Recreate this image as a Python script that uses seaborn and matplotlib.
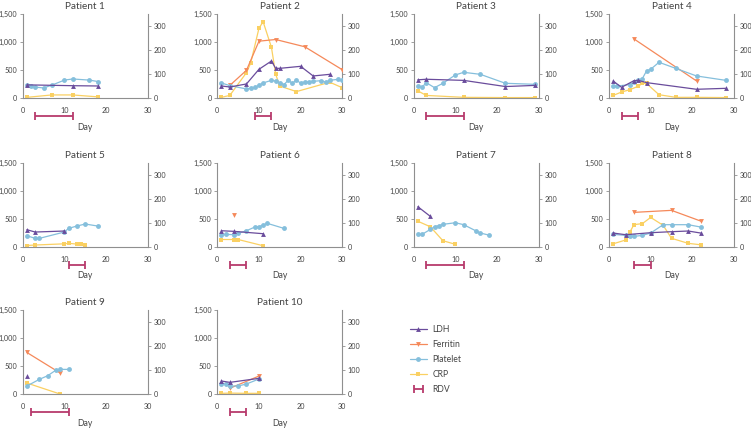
import numpy as np
import pandas as pd
import matplotlib
matplotlib.use("Agg")
import matplotlib.pyplot as plt
from matplotlib.lines import Line2D
from matplotlib.ticker import StrMethodFormatter
import seaborn as sns

# ---- data ----
patients = [1, 2, 3, 4, 5, 6, 7, 8, 9, 10]

# LDH (left axis)
ldh_day = {1: [1, 12, 18], 2: [1, 3, 7, 10, 13, 14, 15, 20, 23, 27], 3: [1, 3, 12, 22, 29],
           4: [1, 3, 6, 7, 9, 21, 28], 5: [1, 3, 10], 6: [1, 4, 11], 7: [1, 4],
           8: [1, 4, 10, 15, 19, 22], 9: [1], 10: [1, 3, 10]}
ldh_val = {1: [240, 225, 220], 2: [220, 202, 256, 518, 666, 535, 535, 571, 399, 428],
           3: [330, 340, 320, 210, 230], 4: [309, 196, 315, 321, 280, 161, 178],
           5: [303, 262, 280], 6: [285, 274, 232], 7: [714, 541],
           8: [244, 214, 250, 268, 280, 244], 9: [326], 10: [237, 213, 285]}

# Ferritin (left axis)
fer_day = {2: [3, 7, 10, 14, 21, 30], 4: [6, 21], 6: [4], 8: [6, 15, 22], 9: [1, 9], 10: [3, 10]}
fer_val = {2: [230, 500, 1020, 1050, 920, 510], 4: [1060, 310], 6: [565],
           8: [613, 649, 458], 9: [747, 380], 10: [107, 326]}

# Platelet (left axis)
plt_day = {1: [1, 2, 3, 5, 7, 10, 12, 16, 18],
           2: [1, 3, 7, 8, 9, 10, 11, 13, 14, 15, 16, 17, 18, 19, 20, 21, 22, 23, 25, 26, 27, 29, 30],
           3: [1, 2, 3, 5, 7, 10, 12, 16, 22, 29],
           4: [1, 2, 5, 6, 7, 8, 9, 10, 12, 16, 21, 28],
           5: [1, 3, 4, 10, 11, 13, 15, 18],
           6: [1, 2, 4, 5, 7, 9, 10, 11, 12, 16],
           7: [1, 2, 4, 5, 6, 7, 10, 12, 15, 16, 18],
           8: [1, 4, 5, 6, 8, 10, 13, 15, 19, 22],
           9: [1, 4, 6, 8, 9, 11],
           10: [1, 2, 3, 5, 7, 10]}
plt_val = {1: [240, 225, 200, 185, 235, 325, 345, 325, 300],
           2: [274, 226, 167, 178, 196, 232, 274, 321, 309, 274, 244, 321, 268, 327, 268, 292,
               292, 303, 315, 286, 321, 339, 327],
           3: [220, 196, 280, 190, 268, 417, 464, 428, 268, 250],
           4: [214, 220, 244, 286, 321, 351, 488, 518, 643, 535, 399, 321],
           5: [196, 149, 149, 262, 327, 369, 405, 369],
           6: [208, 220, 214, 238, 285, 351, 357, 387, 417, 327],
           7: [220, 220, 309, 357, 375, 399, 428, 393, 280, 244, 208],
           8: [220, 202, 196, 184, 202, 244, 393, 393, 393, 351],
           9: [148, 267, 332, 433, 445, 445],
           10: [178, 190, 148, 148, 184, 273]}

# CRP (right axis)
crp_day = {1: [1, 7, 12, 18], 2: [1, 3, 7, 8, 10, 11, 13, 14, 15, 19, 27, 30],
           3: [1, 3, 12, 22, 29], 4: [1, 3, 5, 7, 8, 9, 12, 16, 21, 28],
           5: [1, 3, 10, 11, 13, 14, 15], 6: [1, 4, 5, 11], 7: [1, 4, 7, 10],
           8: [1, 4, 5, 6, 8, 10, 13, 15, 19, 22], 9: [1, 9], 10: [1, 3, 7, 10]}
crp_val = {1: [4, 14, 14, 6], 2: [4, 12, 107, 146, 292, 319, 212, 101, 51, 28, 67, 44],
           3: [31, 12, 4, 3, 3], 4: [12, 26, 36, 50, 62, 62, 15, 4, 4, 3],
           5: [5, 7, 12, 14, 11, 10, 8], 6: [30, 30, 30, 4], 7: [106, 83, 25, 10],
           8: [12, 28, 61, 92, 96, 122, 89, 35, 14, 8], 9: [47, 1], 10: [4, 5, 4, 4]}

# RDV interval (days)
rdv_start = {1: 3, 2: 9, 3: 3, 4: 3, 5: 11, 6: 3, 7: 3, 8: 6, 9: 2, 10: 3}
rdv_end = {1: 12, 2: 13, 3: 12, 4: 7, 5: 15, 6: 7, 7: 12, 8: 10, 9: 11, 10: 7}

c_ldh = "#6a4c9c"
c_fer = "#f5895a"
c_plt = "#85bfdc"
c_crp = "#fad062"
c_rdv = "#b73a6c"
c_axis = "#8f8f8f"
c_text = "#444444"

sns.set_style("white")
plt.rcParams["font.family"] = ["Lato", "DejaVu Sans"]

W, H = 751, 428
fig = plt.figure(figsize=(W / 100, H / 100), dpi=100)

col_left = [22.7, 217.3, 413.7, 609.0]
row_bottom = [98.3, 246.7, 394.3]
ax_w, ax_h = 125, 84

def draw(ax, days, vals, color, marker):
    df = pd.DataFrame({"day": days, "val": vals})
    sns.lineplot(data=df, x="day", y="val", ax=ax, color=color, marker=marker,
                 markersize=3.5, markeredgewidth=0, linewidth=0.9, estimator=None)

rdv_handle = None
for i, p in enumerate(patients):
    r, c = divmod(i, 4)
    ax = fig.add_axes([col_left[c] / W, (H - row_bottom[r]) / H, ax_w / W, ax_h / H])
    ax2 = ax.twinx()

    draw(ax2, crp_day[p], crp_val[p], c_crp, "s")
    if p in fer_day:
        draw(ax, fer_day[p], fer_val[p], c_fer, "v")
    draw(ax, plt_day[p], plt_val[p], c_plt, "o")
    draw(ax, ldh_day[p], ldh_val[p], c_ldh, "^")
    ax.set_zorder(ax2.get_zorder() + 1)
    ax.patch.set_visible(False)

    s, e = rdv_start[p], rdv_end[p]
    eb = ax.errorbar(x=(s + e) / 2, y=-320, xerr=(e - s) / 2, color=c_rdv, capsize=3,
                     elinewidth=1.3, capthick=1.3, fmt="none", clip_on=False)
    for art in eb.lines[1] + eb.lines[2]:
        art.set_clip_on(False)
    if rdv_handle is None:
        rdv_handle = eb

    ax.set_xlim(0, 30)
    ax.set_ylim(0, 1500)
    ax2.set_ylim(0, 350)
    ax.set_xticks([0, 10, 20, 30])
    ax.set_yticks([0, 500, 1000, 1500])
    ax2.set_yticks([0, 100, 200, 300])
    ax.yaxis.set_major_formatter(StrMethodFormatter("{x:,.0f}"))

    for a in (ax, ax2):
        a.set_xlabel("")
        a.set_ylabel("")
        a.spines["top"].set_visible(False)
        for sp in a.spines.values():
            sp.set_color(c_axis)
            sp.set_linewidth(0.8)
        a.tick_params(axis="both", length=2.5, width=0.6, color=c_axis, labelsize=5.2,
                      labelcolor=c_text, pad=1.5)
    ax.tick_params(axis="x", pad=4)
    ax.spines["right"].set_visible(False)
    ax2.spines["left"].set_visible(False)
    ax2.spines["bottom"].set_visible(False)
    ax.set_xlabel("Day", fontsize=6.2, color=c_text, labelpad=6)
    ax.set_title(f"Patient {p}", fontsize=7.2, color=c_text, pad=3.5)

handles = [
    Line2D([], [], color=c_ldh, marker="^", markersize=3.5, markeredgewidth=0, lw=0.9),
    Line2D([], [], color=c_fer, marker="v", markersize=3.5, markeredgewidth=0, lw=0.9),
    Line2D([], [], color=c_plt, marker="o", markersize=3.5, markeredgewidth=0, lw=0.9),
    Line2D([], [], color=c_crp, marker="s", markersize=3.5, markeredgewidth=0, lw=0.9),
    rdv_handle,
]
leg = fig.legend(handles, ["LDH", "Ferritin", "Platelet", "CRP", "RDV"],
                 loc="upper left", bbox_to_anchor=(402 / W, 1 - 317 / H),
                 frameon=False, fontsize=6.2, handlelength=2.0, labelspacing=0.7,
                 handletextpad=0.6)
for t in leg.get_texts():
    t.set_color(c_text)

fig.savefig("out.png", dpi=100)
